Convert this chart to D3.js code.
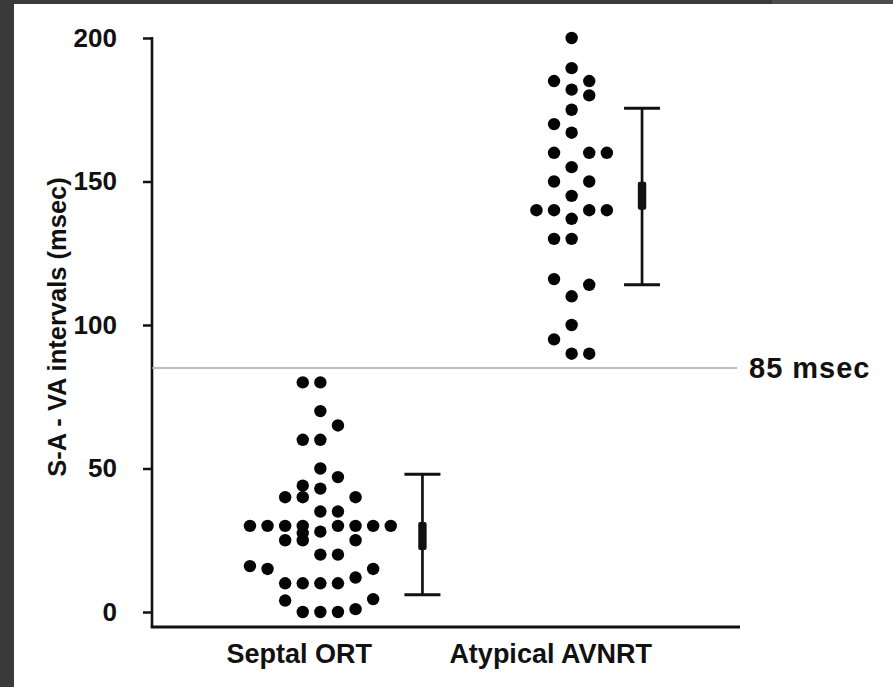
<!DOCTYPE html>
<html lang="en">
<head>
    <meta charset="UTF-8">
    <title>S-A - VA intervals</title>
    <style>
        body {
            margin: 0;
            background: #3a3a3a;
        }

        svg {
            display: block;
        }

        text {
            font-family: 'Liberation Sans', Arial, sans-serif;
            font-weight: bold;
            fill: #111;
        }
    </style>
</head>
<body>
    <svg id="chart" width="893" height="687"></svg>

    <script src="https://cdn.jsdelivr.net/npm/d3@7/dist/d3.min.js"></script>
    <script>
        // Categories
        const groups = ["Septal ORT", "Atypical AVNRT"];

        // Septal ORT: values (msec) and swarm lane of each dot
        const septalValues = [80, 80, 70, 65, 60, 60, 50, 47, 44, 43,
            40, 40, 40, 35, 35,
            30, 30, 30, 30, 30, 30, 30, 30, 28, 27.5,
            25, 25, 25, 20, 20, 16, 15, 15, 12,
            10, 10, 10, 10, 4, 4.5, 1, 0, 0, 0];
        const septalLanes = [-1, 0, 0, 1, -1, 0, 0, 1, -1, 0,
            -2, -1, 2, 0, 1,
            -4, -3, -2, -1, 1, 2, 3, 4, 0, -1,
            -2, -1, 2, 0, 1, -4, -3, 3, 2,
            -2, -1, 0, 1, -2, 3, 2, -1, 0, 1];

        // Atypical AVNRT
        const avnrtValues = [200, 189.5, 185, 185, 182, 180, 175, 170, 167,
            160, 160, 160, 155, 150, 150, 145,
            140, 140, 140, 140, 137, 130, 130,
            116, 114, 110, 100, 95, 90, 90];
        const avnrtLanes = [0, 0, -1, 1, 0, 1, 0, -1, 0,
            -1, 1, 2, 0, -1, 1, 0,
            -2, -1, 1, 2, 0, -1, 0,
            -1, 1, 0, 0, -1, 0, 1];

        // Error bars (mean and range drawn next to each swarm)
        const barMean = [26.5, 145];
        const barLow = [6, 114];
        const barHigh = [48, 175.5];
        const barLane = [5.8, 4.0];

        const yTicks = [0, 50, 100, 150, 200];
        const cutoff = 85;
        const cutoffLabel = "85 msec";
        const yLabel = "S-A - VA intervals (msec)";

        const svg = d3.select("#chart");

        // white panel with the dark frame showing at left and top
        svg.append("rect")
            .attr("x", 0).attr("y", 0)
            .attr("width", 893).attr("height", 687)
            .attr("fill", "#3a3a3a");
        svg.append("rect")
            .attr("x", 772).attr("y", 0)
            .attr("width", 121).attr("height", 4)
            .attr("fill", "#4c4c4c");
        svg.append("rect")
            .attr("x", 14).attr("y", 4)
            .attr("width", 879).attr("height", 683)
            .attr("fill", "#fff");

        const left = 152, right = 740, axisY = 627;

        const y = d3.scaleLinear().domain([0, 200]).range([612, 38]);
        const x = d3.scalePoint().domain(groups).range([left, right]).padding(0.67);
        const lane = d3.scaleLinear().domain([0, 1]).range([0, 17.6]);

        // y axis
        const yAxis = svg.append("g")
            .attr("transform", `translate(${left},0)`)
            .call(d3.axisLeft(y).tickValues(yTicks).tickSize(9).tickPadding(26));
        yAxis.select(".domain").remove();
        yAxis.selectAll(".tick line").attr("stroke", "#111").attr("stroke-width", 2.5);
        yAxis.selectAll(".tick text")
            .attr("font-size", 26)
            .attr("font-family", "'Liberation Sans', Arial, sans-serif")
            .attr("font-weight", "bold")
            .attr("fill", "#111");

        svg.append("line")
            .attr("x1", left).attr("x2", left)
            .attr("y1", y(200) - 1).attr("y2", axisY)
            .attr("stroke", "#111").attr("stroke-width", 2.6);

        // x axis
        svg.append("line")
            .attr("x1", left - 1.3).attr("x2", right)
            .attr("y1", axisY).attr("y2", axisY)
            .attr("stroke", "#111").attr("stroke-width", 2.8);

        svg.selectAll("text.cat")
            .data(groups)
            .enter().append("text")
            .attr("class", "cat")
            .attr("x", d => x(d) - 21)
            .attr("y", 663)
            .attr("text-anchor", "middle")
            .attr("font-size", 27)
            .text(d => d);

        // y axis title
        svg.append("text")
            .attr("transform", `translate(66,327) rotate(-90)`)
            .attr("text-anchor", "middle")
            .attr("font-size", 25.5)
            .text(yLabel);

        // 85 msec cutoff
        svg.append("line")
            .attr("x1", left).attr("x2", 737)
            .attr("y1", y(cutoff)).attr("y2", y(cutoff))
            .attr("stroke", "#a8a8a8").attr("stroke-width", 1.6);
        svg.append("text")
            .attr("x", 749)
            .attr("y", y(cutoff))
            .attr("dy", "0.36em")
            .attr("font-size", 29)
            .attr("letter-spacing", 1)
            .text(cutoffLabel);

        // dots
        const dots = [
            ...septalValues.map((v, i) => ({ g: groups[0], v: v, lane: septalLanes[i] })),
            ...avnrtValues.map((v, i) => ({ g: groups[1], v: v, lane: avnrtLanes[i] }))
        ];

        svg.selectAll("circle.dot")
            .data(dots)
            .enter().append("circle")
            .attr("class", "dot")
            .attr("cx", d => x(d.g) + lane(d.lane))
            .attr("cy", d => y(d.v))
            .attr("r", 6.2)
            .attr("fill", "#050505");

        // error bars
        const bars = groups.map((g, i) => ({
            g: g, mean: barMean[i], lo: barLow[i], hi: barHigh[i], lane: barLane[i]
        }));
        const bar = svg.selectAll("g.bar")
            .data(bars)
            .enter().append("g")
            .attr("class", "bar")
            .attr("transform", d => `translate(${x(d.g) + lane(d.lane)},0)`);

        bar.append("line")
            .attr("y1", d => y(d.hi)).attr("y2", d => y(d.lo))
            .attr("stroke", "#111").attr("stroke-width", 2.7);
        bar.selectAll("line.cap")
            .data(d => [d.hi, d.lo])
            .enter().append("line")
            .attr("class", "cap")
            .attr("x1", -18).attr("x2", 18)
            .attr("y1", d => y(d)).attr("y2", d => y(d))
            .attr("stroke", "#111").attr("stroke-width", 3);
        bar.append("rect")
            .attr("x", -4.2).attr("width", 8.4)
            .attr("y", d => y(d.mean) - 14)
            .attr("height", 28)
            .attr("rx", 2)
            .attr("fill", "#111");
    </script>
</body>
</html>
